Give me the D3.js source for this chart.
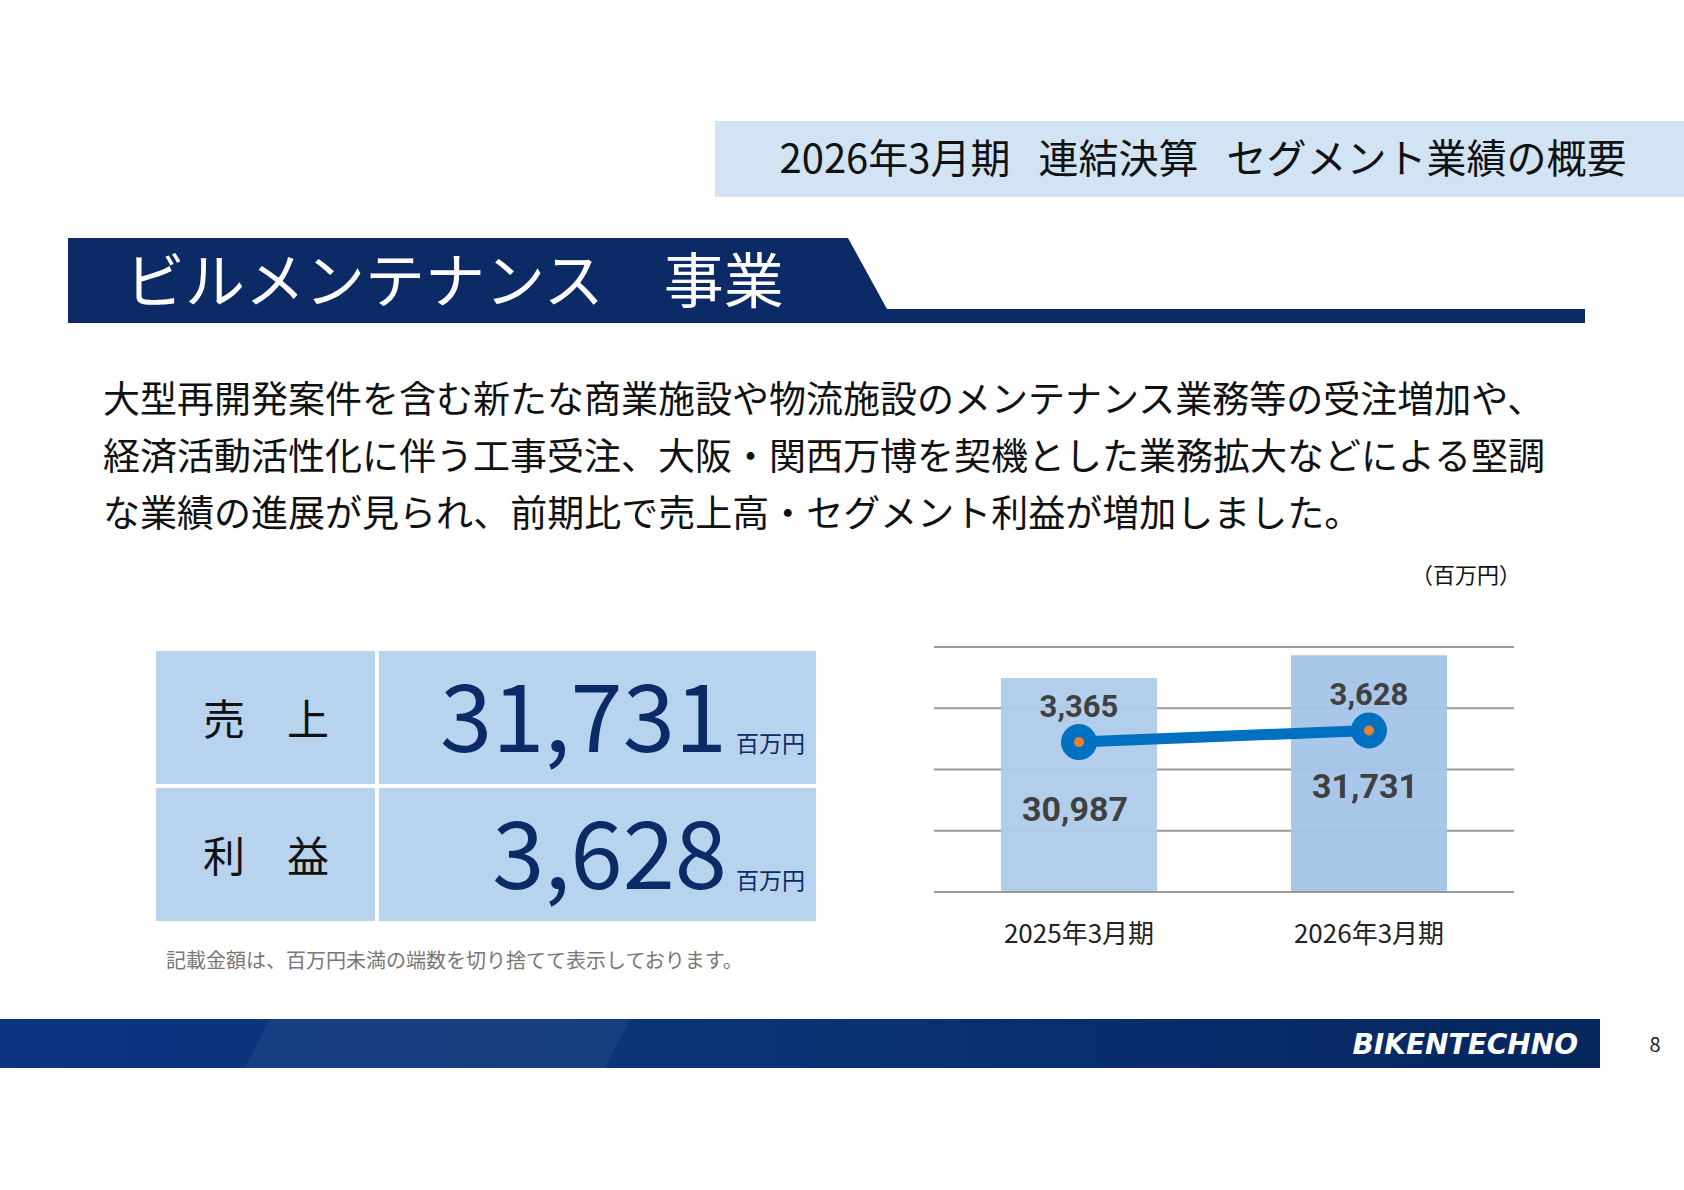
<!DOCTYPE html><html><head><meta charset="utf-8"><script src="https://cdn.jsdelivr.net/npm/d3@7"></script>
<style>body{margin:0;background:#fff}svg{display:block}</style></head><body><script>
const categories=["2025年3月期","2026年3月期"];
const sales=[30987,31731];
const profit=[3365,3628];
const salesLabels=["30,987","31,731"];
const profitLabels=["3,365","3,628"];
const yTicks=[24000,26000,28000,30000,32000];
const bodyLines=["大型再開発案件を含む新たな商業施設や物流施設のメンテナンス業務等の受注増加や、","経済活動活性化に伴う工事受注、大阪・関西万博を契機とした業務拡大などによる堅調","な業績の進展が見られ、前期比で売上高・セグメント利益が増加しました。"];
const tableRows=[["売\u2002\u2002上","31,731"],["利\u2002\u2002益","3,628"]];
const JP="'Noto Sans CJK JP','Noto Sans',sans-serif";
const svg=d3.select("body").append("svg").attr("width",1684).attr("height",1190);
svg.append("rect").attr("x",715).attr("y",121).attr("width",969).attr("height",76).attr("fill","#d2e4f4");
svg.append("text").attr("x",1203).attr("y",173).attr("text-anchor","middle").attr("font-family",JP).attr("font-size",40).attr("fill","#111").text("2026年3月期\u2002\u2009連結決算\u2002\u2009セグメント業績の概要");
svg.append("path").attr("d","M68,238H848L887,309H1585V323H68Z").attr("fill","#0b2a66");
svg.append("text").attr("x",125).attr("y",303).attr("font-family",JP).attr("font-size",60).attr("fill","#fff").text("ビルメンテナンス　事業");
bodyLines.forEach((t,i)=>svg.append("text").attr("x",103).attr("y",413+i*57).attr("font-family",JP).attr("font-size",37).attr("fill","#111").text(t));
svg.append("text").attr("x",1521).attr("y",583).attr("text-anchor","end").attr("font-family",JP).attr("font-size",22).attr("fill","#111").text("（百万円）");
tableRows.forEach((r,i)=>{const y=651+i*137;
 svg.append("rect").attr("x",156).attr("y",y).attr("width",219).attr("height",133).attr("fill","#b8d3ee");
 svg.append("rect").attr("x",379).attr("y",y).attr("width",437).attr("height",133).attr("fill","#b8d3ee");
 svg.append("text").attr("x",266).attr("y",y+84).attr("text-anchor","middle").attr("font-family",JP).attr("font-size",42).attr("fill","#111").text(r[0]);
 svg.append("text").attr("x",727).attr("y",y+101).attr("text-anchor","end").attr("font-family",JP).attr("font-size",94).attr("fill","#0b2a66").text(r[1]);
 svg.append("text").attr("x",805).attr("y",y+101).attr("text-anchor","end").attr("font-family",JP).attr("font-size",23).attr("fill","#0b2a66").text("百万円");
});
svg.append("text").attr("x",166).attr("y",968).attr("font-family",JP).attr("font-size",20).attr("fill","#777").text("記載金額は、百万円未満の端数を切り捨てて表示しております。");
const x=d3.scalePoint().domain(categories).range([934,1514]).padding(0.5);
const y=d3.scaleLinear().domain([24000,32000]).range([892,647]);
const y2=d3.scaleLinear().domain([0,5500]).range([892,647]);
svg.append("g").selectAll("line").data(yTicks).join("line").attr("x1",934).attr("x2",1514).attr("y1",d=>y(d)).attr("y2",d=>y(d)).attr("stroke","#9a9a9a").attr("stroke-width",2);
const bw=156;
const cx=i=>x(categories[i]);
svg.append("g").selectAll("rect").data(sales).join("rect").attr("x",(d,i)=>cx(i)-bw/2).attr("width",bw).attr("y",d=>y(d)).attr("height",d=>892-y(d)).attr("fill",(d,i)=>i?"#a4c4e7":"#aecbea").attr("opacity",0.95);
svg.append("line").attr("x1",934).attr("x2",1514).attr("y1",892).attr("y2",892).attr("stroke","#9a9a9a").attr("stroke-width",2);
svg.append("path").attr("d",d3.line().x((d,i)=>cx(i)).y(d=>y2(d))(profit)).attr("stroke","#0070c0").attr("stroke-width",11).attr("fill","none");
svg.append("g").selectAll("circle").data(profit).join("circle").attr("cx",(d,i)=>cx(i)).attr("cy",d=>y2(d)).attr("r",18).attr("fill","#0070c0");
svg.append("g").selectAll("circle").data(profit).join("circle").attr("cx",(d,i)=>cx(i)).attr("cy",d=>y2(d)).attr("r",5).attr("fill","#ed7d31");
const NUM="'Liberation Sans Narrow','Roboto',sans-serif";
svg.append("g").selectAll("text").data(profitLabels).join("text").attr("x",(d,i)=>cx(i)).attr("y",(d,i)=>y2(profit[i])-25).attr("text-anchor","middle").attr("font-family",NUM).attr("font-weight","bold").attr("font-size",31).attr("fill","#404040").text(d=>d);
svg.append("g").selectAll("text").data(salesLabels).join("text").attr("x",(d,i)=>cx(i)-4).attr("y",(d,i)=>y(sales[i])+143).attr("text-anchor","middle").attr("font-family",NUM).attr("font-weight","bold").attr("font-size",34).attr("fill","#404040").text(d=>d);
svg.append("g").selectAll("text").data(categories).join("text").attr("x",(d,i)=>cx(i)).attr("y",943).attr("text-anchor","middle").attr("font-family",JP).attr("font-size",26).attr("fill","#222").text(d=>d);
const g=svg.append("defs").append("linearGradient").attr("id","fg");
g.append("stop").attr("offset","0").attr("stop-color","#0d3580");
g.append("stop").attr("offset","0.4").attr("stop-color","#0b3478");
g.append("stop").attr("offset","1").attr("stop-color","#06275e");
svg.append("rect").attr("x",0).attr("y",1019).attr("width",1600).attr("height",49).attr("fill","url(#fg)");
svg.append("path").attr("d","M245,1068L270,1019H630L605,1068Z").attr("fill","#fff").attr("opacity",0.05);
svg.append("text").attr("x",1578).attr("y",1054).attr("text-anchor","end").attr("font-family","'DejaVu Sans',sans-serif").attr("font-weight","bold").attr("font-style","italic").attr("font-size",28).attr("fill","#fff").text("BIKENTECHNO");
svg.append("text").attr("x",1655).attr("y",1052).attr("text-anchor","middle").attr("font-family",JP).attr("font-size",20).attr("fill","#222").text("8");
</script></body></html>
